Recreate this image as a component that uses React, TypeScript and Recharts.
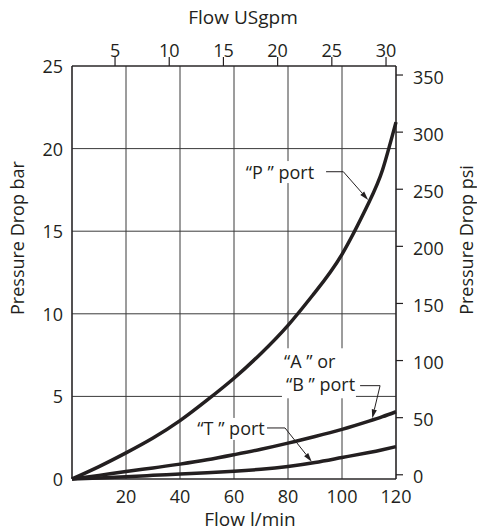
import { CartesianGrid, Line, LineChart, ReferenceDot, ReferenceLine, XAxis, YAxis } from "recharts"

const INK = "#231f20"
const FONT = "'Open Sans', sans-serif"

// flow in l/min, pressure drop in bar
const flowLpm = [0, 10, 20, 30, 40, 50, 60, 70, 80, 90, 100, 110, 115, 120]
const pPort = [0, 0.75, 1.58, 2.48, 3.53, 4.77, 6.1, 7.6, 9.3, 11.3, 13.6, 16.75, 18.7, 21.6]
const abPort = [0, 0.22, 0.46, 0.67, 0.9, 1.16, 1.47, 1.8, 2.17, 2.57, 3.0, 3.5, 3.77, 4.07]
const tPort = [0, 0.06, 0.14, 0.22, 0.3, 0.38, 0.47, 0.59, 0.76, 1.0, 1.3, 1.6, 1.77, 1.96]

const flowTicks = [20, 40, 60, 80, 100, 120]
const gpmTicks = [5, 10, 15, 20, 25, 30]
const barTicks = [0, 5, 10, 15, 20, 25]
const psiTicks = [0, 50, 100, 150, 200, 250, 300, 350]

// top scale as drawn on the sheet (0 and 120 l/min edges)
const gpmRange = [1.03, 30.92]

// port callouts, in chart units (flow, bar)
const callouts = [
  { lines: ["\u201CP \u201D port"], flow: 77, bar: 18.58, anchor: "middle", w: 74, h: 22 },
  { lines: ["\u201CA \u201D or", "\u201CB \u201D port"], flow: 78.5, bar: 6.4, anchor: "start", w: 74, h: 50 },
  { lines: ["\u201CT \u201D port"], flow: 58.9, bar: 3.03, anchor: "middle", w: 72, h: 22 },
]
const leaders = [
  { from: [94.1, 18.6], to: [100.5, 18.6], arrow: false },
  { from: [100.5, 18.6], to: [109.7, 16.89], arrow: true },
  { from: [106.7, 5.65], to: [114.1, 5.65], arrow: false },
  { from: [114.1, 5.65], to: [111.2, 3.67], arrow: true },
  { from: [71.5, 3.09], to: [78.9, 3.09], arrow: false },
  { from: [78.9, 3.09], to: [88.8, 1.05], arrow: true },
]

const data = flowLpm.map((flow, i) => ({ flow, p: pPort[i], ab: abPort[i], t: tPort[i] }))
const toGpm = (d: any) => gpmRange[0] + (d.flow / 120) * (gpmRange[1] - gpmRange[0])

const tickText = { fontSize: 18, fill: INK, fontFamily: FONT }
const titleText = { fontSize: 19, fill: INK, fontFamily: FONT }

const LeftTick = ({ x, y, payload }: any) => (
  <text x={x} y={y + 7} textAnchor="end" {...tickText}>{payload.value}</text>
)
const RightTick = ({ x, y, payload }: any) => (
  <text x={x} y={y + 8.5} textAnchor="start" {...tickText}>{payload.value}</text>
)
const TopTick = ({ x, y, payload }: any) => (
  <text x={x} y={y} textAnchor="middle" {...tickText}>{payload.value}</text>
)
const BottomTick = ({ x, y, payload }: any) => (
  <text x={x} y={y + 24} textAnchor="middle" {...tickText}>{payload.value}</text>
)

function Leader(props: any) {
  const { x1, y1, x2, y2, arrow } = props
  if (x1 == null) return null
  const dx = x2 - x1
  const dy = y2 - y1
  const len = Math.sqrt(dx * dx + dy * dy) || 1
  const ux = dx / len
  const uy = dy / len
  const bx = x2 - ux * 9
  const by = y2 - uy * 9
  return (
    <g>
      <line x1={x1} y1={y1} x2={arrow ? bx : x2} y2={arrow ? by : y2} stroke={INK} strokeWidth={1} />
      {arrow && (
        <polygon
          points={`${x2},${y2} ${bx - uy * 2.6},${by + ux * 2.6} ${bx + uy * 2.6},${by - ux * 2.6}`}
          fill={INK}
        />
      )}
    </g>
  )
}

function Callout({ cx, cy, lines, anchor, w, h }: any) {
  if (cx == null) return null
  const left = anchor === "start" ? cx - 2 : cx - w / 2
  const startY = cy + 6.5 - ((lines.length - 1) * 23.3) / 2
  return (
    <g>
      <rect x={left} y={cy - h / 2} width={w} height={h} fill="#fff" />
      {lines.map((line: string, i: number) => (
        <text key={i} x={anchor === "start" ? cx + (i === 1 ? 2 : 0) : cx} y={startY + i * 23.3} textAnchor={anchor} {...tickText}>
          {line}
        </text>
      ))}
    </g>
  )
}

export default function App() {
  return (
    <div style={{ position: "absolute", left: 0, top: 0, background: "#fff" }}>
      <LineChart
        width={477}
        height={531}
        data={data}
        margin={{ top: 36, right: 0, bottom: 22, left: 0 }}
        style={{ fontFamily: FONT }}
      >
        <CartesianGrid xAxisId="bottom" yAxisId="bar" stroke="#3a3a3a" strokeWidth={1} />
        <XAxis
          xAxisId="bottom"
          dataKey="flow"
          type="number"
          domain={[0, 120]}
          ticks={flowTicks}
          height={30}
          tickLine={false}
          tickSize={0}
          tickMargin={0}
          axisLine={{ stroke: INK, strokeWidth: 1.2 }}
          tick={<BottomTick />}
        />
        <XAxis
          xAxisId="top"
          orientation="top"
          dataKey={toGpm}
          type="number"
          domain={gpmRange}
          allowDataOverflow
          ticks={gpmTicks}
          height={30}
          tickSize={9}
          tickMargin={0}
          tickLine={{ stroke: INK, strokeWidth: 1.2 }}
          axisLine={{ stroke: INK, strokeWidth: 1.2 }}
          tick={<TopTick />}
        />
        <YAxis
          yAxisId="bar"
          type="number"
          domain={[0, 25]}
          ticks={barTicks}
          width={72}
          tickLine={false}
          tickSize={0}
          tickMargin={9}
          axisLine={{ stroke: INK, strokeWidth: 1.2 }}
          tick={<LeftTick />}
        />
        <YAxis
          yAxisId="psi"
          orientation="right"
          type="number"
          domain={[-3.7, 357.9]}
          allowDataOverflow
          ticks={psiTicks}
          width={81}
          tickSize={7}
          tickMargin={10}
          tickLine={{ stroke: INK, strokeWidth: 1.2 }}
          axisLine={{ stroke: INK, strokeWidth: 1.2 }}
          tick={<RightTick />}
        />
        {callouts.map((c, i) => (
          <ReferenceDot
            key={`c${i}`}
            xAxisId="bottom"
            yAxisId="bar"
            x={c.flow}
            y={c.bar}
            r={1}
            ifOverflow="visible"
            shape={(props: any) => <Callout {...props} lines={c.lines} anchor={c.anchor} w={c.w} h={c.h} />}
          />
        ))}
        {leaders.map((l, i) => (
          <ReferenceLine
            key={`l${i}`}
            xAxisId="bottom"
            yAxisId="bar"
            ifOverflow="visible"
            segment={[
              { x: l.from[0], y: l.from[1] },
              { x: l.to[0], y: l.to[1] },
            ]}
            shape={(props: any) => <Leader {...props} arrow={l.arrow} />}
          />
        ))}
        <Line xAxisId="bottom" yAxisId="bar" dataKey="p" type="natural" stroke={INK} strokeWidth={3.5} dot={false} isAnimationActive={false} />
        <Line xAxisId="bottom" yAxisId="bar" dataKey="ab" type="natural" stroke={INK} strokeWidth={3.5} dot={false} isAnimationActive={false} />
        <Line xAxisId="bottom" yAxisId="bar" dataKey="t" type="natural" stroke={INK} strokeWidth={3.5} dot={false} isAnimationActive={false} />
        <text x={243} y={24} textAnchor="middle" {...titleText}>Flow USgpm</text>
        <text x={250} y={526} textAnchor="middle" {...titleText}>Flow l/min</text>
        <text transform="translate(24,238) rotate(-90)" textAnchor="middle" {...tickText}>Pressure Drop bar</text>
        <text transform="translate(473,240) rotate(-90)" textAnchor="middle" {...tickText}>Pressure Drop psi</text>
      </LineChart>
    </div>
  )
}
